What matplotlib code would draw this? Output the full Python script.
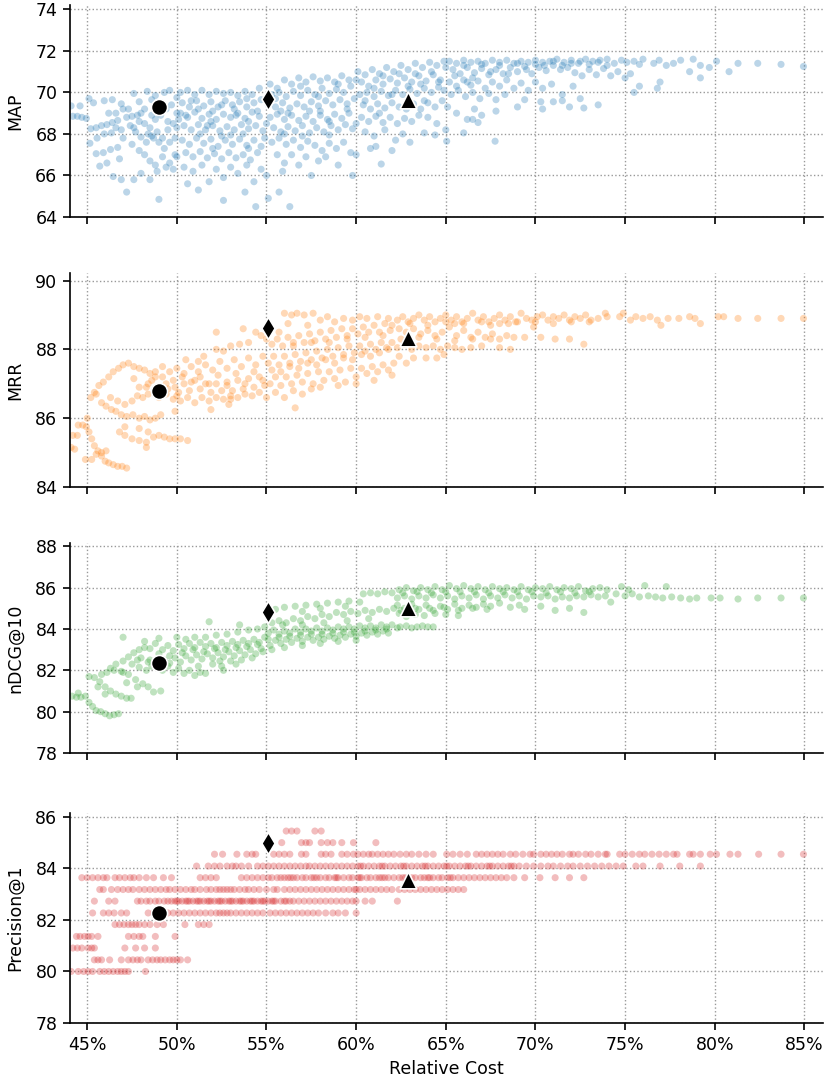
import matplotlib
matplotlib.use('Agg')
import matplotlib.pyplot as plt
from matplotlib.ticker import FuncFormatter

plt.rcParams['font.family'] = ['DejaVu Sans']
plt.rcParams['font.size'] = 12.5

# ---------------- data ----------------
map_points = [
    # x 44-47
    (44.1,69.35),(44.2,68.85),(44.45,68.85),(44.7,68.8),(44.95,68.75),(44.6,69.35),(45.1,69.7),(45.35,69.5),
    (45.2,68.25),(45.5,68.3),(45.8,68.4),(46.1,68.45),(46.4,68.55),(46.7,68.65),(45.15,67.55),(45.55,67.8),
    (45.95,68.0),(46.35,68.05),(45.5,67.05),(45.9,67.1),(46.3,67.25),(46.7,67.35),(45.7,66.45),(46.1,66.6),
    (46.45,65.95),(46.9,65.8),(47.2,65.2),(45.95,69.6),(46.4,69.65),(46.9,69.45),(46.6,69.0),(46.2,69.0),
    (46.9,68.2),(47.0,67.8),(46.8,66.8),
    # x 47-50
    (47.2,68.8),(47.5,68.85),(47.8,68.9),(47.3,69.2),(47.6,69.95),(47.9,69.55),(48.2,69.2),(48.35,70.05),
    (48.6,69.65),(48.8,69.85),(49.3,70.0),(49.6,70.1),(50.0,69.75),(47.4,68.4),(47.7,68.1),(48.0,67.85),
    (48.3,67.6),(48.6,67.9),(48.9,68.1),(49.2,67.8),(49.5,68.2),(49.8,68.5),(47.5,67.5),(47.9,67.2),
    (48.2,67.0),(48.5,66.7),(48.8,66.5),(49.2,66.9),(49.6,66.6),(49.9,67.0),(47.6,65.8),(48.0,66.1),
    (48.5,65.8),(48.9,66.2),(49.0,64.85),(49.4,66.4),(49.8,66.3),(47.9,68.6),(48.2,68.5),(48.5,68.3),
    (48.8,68.7),(49.1,68.9),(49.4,69.2),(49.7,69.4),(50.0,69.0),(48.4,68.0),(48.7,67.8),(49.0,67.6),
    (49.3,67.3),(49.6,67.6),(49.9,67.8),(50.0,66.9),(49.1,69.5),(48.0,69.0),(50.0,68.3),
    # x 50-55
    (50.2,70.0),(50.6,70.1),(51.0,69.9),(51.4,70.1),(51.8,69.9),(52.2,70.05),(52.6,69.95),(53.0,70.0),
    (53.4,69.85),(53.8,70.05),(54.2,69.9),(54.6,70.2),(50.3,69.5),(50.7,69.3),(51.1,69.6),(51.5,69.35),
    (51.9,69.55),(52.3,69.3),(52.7,69.6),(53.1,69.4),(53.5,69.55),(53.9,69.3),(54.3,69.5),(54.7,69.65),
    (50.2,69.0),(50.6,68.8),(51.0,69.05),(51.4,68.75),(51.8,68.95),(52.2,68.7),(52.6,68.95),(53.0,68.8),
    (53.4,69.0),(53.8,68.75),(54.2,69.05),(54.6,68.85),(50.4,68.4),(50.8,68.2),(51.2,68.45),(51.6,68.2),
    (52.0,68.4),(52.4,68.15),(52.8,68.35),(53.2,68.2),(53.6,68.45),(54.0,68.25),(54.4,68.4),(54.8,68.15),
    (50.3,67.7),(50.7,67.5),(51.1,67.8),(51.5,67.55),(51.9,67.75),(52.3,67.4),(52.7,67.7),(53.1,67.5),
    (53.5,67.75),(53.9,67.45),(54.3,67.7),(54.7,67.4),(50.5,67.1),(50.9,66.9),(51.3,67.15),(51.7,66.85),
    (52.1,67.05),(52.5,66.8),(52.9,67.1),(53.3,66.85),(53.7,67.0),(54.1,66.75),(54.5,67.1),(50.4,66.4),
    (50.9,66.2),(51.4,66.5),(51.8,65.7),(52.2,66.3),(52.6,65.9),(53.0,66.4),(53.4,66.1),(53.9,66.5),
    (54.3,65.7),(54.7,66.3),(50.6,65.6),(51.2,65.3),(52.6,64.8),(53.8,65.2),(54.4,64.5),(55.1,64.9),
    (55.7,65.2),(56.3,64.5),(50.1,68.7),(52.0,69.1),(53.2,69.2),(54.0,68.6),(51.3,68.0),(53.7,68.0),
    (52.5,67.9),(54.9,67.8),
    # x 55-60
    (55.2,70.4),(55.6,70.2),(56.0,70.6),(56.4,70.4),(56.8,70.7),(57.2,70.5),(57.6,70.75),(58.0,70.55),
    (58.4,70.7),(58.8,70.5),(59.2,70.8),(59.6,70.6),(55.3,69.9),(55.7,70.0),(56.1,69.8),(56.5,70.05),
    (56.9,69.85),(57.3,70.1),(57.7,69.9),(58.1,70.2),(58.5,69.95),(58.9,70.15),(59.3,70.0),(59.7,70.3),
    (55.1,69.4),(55.5,69.3),(55.9,69.5),(56.3,69.25),(56.7,69.45),(57.1,69.3),(57.5,69.55),(57.9,69.35),
    (58.3,69.6),(58.7,69.4),(59.1,69.65),(59.5,69.45),(59.9,69.7),(55.2,68.8),(55.6,68.95),(56.0,68.7),
    (56.4,68.9),(56.8,68.65),(57.2,68.85),(57.6,68.6),(58.0,68.9),(58.4,68.7),(58.8,68.95),(59.2,68.75),
    (59.6,69.0),(55.4,68.3),(55.8,68.1),(56.2,68.35),(56.6,68.15),(57.0,68.4),(57.4,68.05),(57.8,68.3),
    (58.2,68.1),(58.6,68.4),(59.0,68.2),(59.4,68.45),(59.8,68.25),(55.3,67.6),(55.7,67.8),(56.1,67.5),
    (56.5,67.7),(56.9,67.35),(57.3,67.65),(57.7,67.45),(58.1,67.2),(58.5,67.55),(58.9,67.3),(59.3,67.6),
    (59.7,67.1),(55.6,67.0),(56.0,66.6),(56.4,67.0),(56.8,66.5),(57.2,66.9),(57.5,66.0),(57.9,66.7),
    (58.3,66.9),(59.0,66.5),(59.8,66.0),(55.9,66.2),(55.0,66.0),
    # x 60-65
    (60.1,71.0),(60.5,70.85),(60.9,71.1),(61.3,70.9),(61.7,71.2),(62.1,71.0),(62.5,71.3),(62.9,71.1),
    (63.3,71.4),(63.7,71.2),(64.1,71.45),(64.5,71.3),(64.9,71.5),(60.3,70.5),(60.7,70.3),(61.1,70.6),
    (61.5,70.4),(61.9,70.65),(62.3,70.45),(62.7,70.7),(63.1,70.5),(63.5,70.8),(63.9,70.55),(64.3,70.85),
    (64.7,70.6),(60.2,69.9),(60.6,70.0),(61.0,69.8),(61.4,70.05),(61.8,69.85),(62.2,70.1),(62.6,69.9),
    (63.0,70.15),(63.4,69.95),(63.8,70.2),(64.2,70.0),(64.6,70.25),(60.4,69.4),(60.8,69.2),(61.2,69.45),
    (61.6,69.25),(62.0,69.5),(62.4,69.3),(63.2,69.45),(63.6,69.2),(64.0,69.5),(64.4,69.3),(64.8,69.6),
    (60.3,68.8),(60.7,68.6),(61.1,68.85),(61.5,68.55),(61.9,68.8),(62.3,68.5),(62.7,68.75),(63.1,68.6),
    (63.5,68.9),(64.0,68.8),(64.5,68.5),(60.5,68.1),(61.0,67.9),(61.6,68.2),(62.2,67.7),(62.6,68.0),
    (63.0,67.6),(63.8,68.05),(64.4,67.95),(60.8,67.3),(61.4,66.55),(62.0,67.2),(65.05,67.65),(60.0,67.0),
    (61.1,67.4),
    # x 65-75
    (65.2,71.5),(65.6,71.4),(66.0,71.55),(66.4,71.45),(66.8,71.5),(67.2,71.4),(67.6,71.55),(68.0,71.45),
    (68.4,71.55),(68.8,71.4),(69.2,71.5),(69.6,71.45),(70.0,71.55),(70.4,71.45),(70.8,71.5),(71.2,71.6),
    (71.6,71.45),(72.0,71.55),(72.4,71.4),(72.8,71.6),(73.2,71.5),(73.6,71.55),(74.0,71.6),(74.4,71.4),
    (74.8,71.55),(65.4,71.1),(65.8,70.9),(66.2,71.2),(66.6,70.95),(67.0,71.15),(67.4,70.85),(67.8,71.1),
    (68.2,70.9),(68.6,71.2),(69.0,71.0),(69.4,71.25),(69.8,70.9),(70.2,71.2),(70.6,71.05),(71.0,71.3),
    (71.4,71.1),(71.8,71.2),(72.2,70.95),(72.6,70.8),(73.0,71.1),(73.4,70.85),(73.8,71.15),(74.2,70.8),
    (74.6,71.0),(65.2,70.5),(65.6,70.3),(66.0,70.6),(66.4,70.35),(66.8,70.55),(67.2,70.2),(67.6,70.5),
    (68.0,70.3),(68.4,70.6),(68.8,70.2),(69.2,70.45),(69.6,70.1),(70.0,70.5),(70.4,70.2),(70.9,70.4),
    (71.5,69.9),(72.1,70.3),(65.3,69.9),(65.7,70.1),(66.1,69.8),(66.5,70.0),(66.9,69.7),(67.4,69.95),
    (67.8,69.65),(68.3,69.9),(69.4,69.65),(70.3,69.55),(71.0,69.55),(71.5,69.6),(72.5,69.7),(70.4,69.2),
    (71.9,69.3),(72.7,69.25),(73.5,69.4),(65.1,69.3),(65.6,69.0),(66.2,68.7),(66.6,69.2),(67.0,68.9),
    (67.8,69.1),(66.5,68.7),(66.8,68.55),(65.0,68.2),(66.0,68.05),(67.75,67.65),(69.0,69.3),
    # x 75-85
    (75.1,71.45),(75.5,71.5),(75.8,71.35),(76.0,71.6),(76.6,71.4),(76.9,71.55),(77.3,71.3),(77.7,71.4),
    (78.1,71.55),(78.6,71.0),(78.8,71.6),(79.2,71.3),(79.7,71.2),(80.1,71.5),(80.8,71.0),(81.3,71.4),
    (82.4,71.4),(83.7,71.35),(84.95,71.25),(75.5,70.0),(75.8,70.3),(76.8,70.2),(76.95,70.5),(79.2,70.7),
    (75.0,70.7),(75.3,70.9),
]
# extra dots in the darkest part of the MAP cloud
map_core = [
    (50.5,68.9),(51.2,69.2),(51.9,68.6),(52.5,69.4),(53.3,68.9),(53.9,69.7),(54.5,69.1),(55.0,68.5),
    (55.5,69.7),(56.2,69.0),(56.9,70.3),(57.4,69.1),(57.9,69.8),(58.5,68.6),(59.0,70.4),(59.5,69.2),
    (60.0,70.6),(60.5,69.6),(61.0,70.2),(61.5,70.8),(62.0,69.9),(62.4,70.9),(62.9,70.3),(63.3,70.9),
    (63.8,69.6),(64.2,71.0),(64.6,70.5),(65.0,71.2),(65.5,70.8),(66.0,71.3),(66.5,70.7),(67.0,71.35),
    (67.5,71.0),(68.0,71.3),(68.5,70.9),(69.0,71.4),(69.5,71.1),(70.0,71.35),(70.5,71.3),(71.0,71.5),
    (71.5,71.3),(72.0,71.4),(72.5,71.5),(73.0,71.35),(73.5,71.45),(74.0,71.3),(49.5,68.6),(48.6,68.9),
    (47.6,68.3),(46.6,68.3),(52.0,67.3),(53.0,67.95),(54.0,67.3),(56.0,68.0),(57.0,67.9),(58.5,67.95),
    (60.0,68.5),(61.3,69.0),(62.8,69.2),(63.6,70.4),(64.9,70.1),(66.2,70.5),(58.0,69.1),(55.8,69.1),
    (50.8,69.6),(51.7,68.4),(49.0,69.0),(47.0,69.2),
]

mrr_points = [
    # lower-left strands
    (44.1,85.15),(44.2,85.5),(44.45,85.5),(44.5,85.8),(44.75,85.8),(44.95,85.75),(44.3,85.1),(45.1,85.6),
    (45.25,85.4),(45.4,85.2),(45.6,85.05),(45.8,84.9),(46.0,84.75),(46.2,84.7),(46.45,84.65),(46.7,84.6),
    (46.95,84.6),(47.2,84.55),(44.9,84.8),(45.25,84.8),(45.5,84.95),(45.8,85.0),(46.05,85.05),
    (45.2,86.6),(45.5,86.7),(45.8,86.45),(46.05,86.35),(46.35,86.25),(46.6,86.2),(46.9,86.1),(47.2,86.05),
    (47.55,86.1),(47.9,86.0),(48.2,86.05),(48.5,85.95),(48.8,86.0),(49.1,86.1),(47.1,85.75),(47.9,85.7),
    (46.8,85.6),(47.1,85.5),(47.5,85.4),(47.9,85.35),(48.3,85.3),(48.4,85.6),(48.7,85.45),(49.0,85.5),
    (49.3,85.45),(49.6,85.4),(49.9,85.4),(50.2,85.4),(50.6,85.35),(48.3,85.15),
    (45.4,86.75),(45.65,86.95),(45.9,87.05),(46.2,87.2),(46.45,87.35),(46.75,87.45),(47.0,87.55),(47.3,87.6),
    (47.6,87.5),(47.9,87.45),(48.2,87.4),(48.5,87.3),(48.8,87.2),(46.3,86.6),(46.7,86.5),(47.1,86.4),
    (47.5,86.5),(47.8,86.65),(48.1,86.6),(48.4,86.7),(45.0,86.0),(47.9,86.9),(48.4,87.0),
    # main band 48.5-55
    (48.6,87.1),(48.9,86.9),(49.2,87.2),(49.5,86.85),(49.8,87.1),(50.1,86.75),(50.4,87.0),(50.7,86.8),
    (51.0,87.1),(51.3,86.85),(51.6,87.0),(51.9,86.75),(52.2,87.0),(52.5,86.8),(52.8,87.05),(53.1,86.8),
    (53.4,87.1),(53.7,86.85),(54.0,87.15),(54.3,86.9),(54.6,87.2),(54.9,86.95),
    (48.8,87.35),(49.2,87.5),(49.6,87.35),(50.0,87.45),(50.4,87.3),(50.8,87.5),(51.2,87.35),(51.6,87.55),
    (52.0,87.4),(52.4,87.65),(52.8,87.45),(53.2,87.7),(53.6,87.5),(54.0,87.75),(54.4,87.55),(54.8,87.8),
    (49.0,86.6),(49.4,86.7),(49.8,86.55),(50.2,86.5),(50.6,86.6),(51.0,86.45),(51.4,86.6),(51.8,86.5),
    (52.2,86.6),(52.6,86.55),(53.0,86.65),(53.4,86.6),(53.8,86.7),(54.2,86.65),(54.6,86.75),(49.9,86.2),
    (51.9,86.25),(52.9,86.4),(50.5,87.7),(51.5,87.8),(52.2,88.0),(52.6,87.95),(53.0,88.1),(53.5,88.15),
    (54.0,88.2),(52.2,88.5),(53.7,88.6),(54.4,88.5),(54.7,88.4),(55.0,88.3),(51.2,87.65),
    # 55-62
    (55.2,87.0),(55.5,87.2),(55.8,86.95),(56.1,87.2),(56.4,87.0),(56.7,87.25),(57.0,87.05),(57.3,87.3),
    (57.6,87.0),(57.9,87.35),(58.2,87.1),(58.5,87.35),(58.8,87.15),(59.1,87.4),(59.4,87.05),(59.7,87.45),
    (60.0,87.2),(60.3,87.45),(60.6,87.3),(60.9,87.5),(61.2,87.35),(61.5,87.55),(61.8,87.4),(62.1,87.6),
    (55.1,87.6),(55.4,87.8),(55.7,87.55),(56.0,87.8),(56.3,87.6),(56.6,87.85),(56.9,87.65),(57.2,87.9),
    (57.5,87.7),(57.8,87.95),(58.1,87.75),(58.4,88.0),(58.7,87.8),(59.0,88.05),(59.3,87.85),(59.6,88.1),
    (59.9,87.9),(60.2,88.1),(60.5,87.95),(60.8,88.15),(61.1,88.0),(61.4,88.2),(61.7,88.05),(62.0,88.2),
    (55.3,88.15),(55.6,88.3),(55.9,88.1),(56.2,88.35),(56.5,88.2),(56.8,88.4),(57.1,88.2),(57.4,88.45),
    (57.7,88.25),(58.0,88.5),(58.3,88.3),(58.6,88.55),(58.9,88.35),(59.2,88.6),(59.5,88.4),(59.8,88.6),
    (60.1,88.45),(60.4,88.65),(60.7,88.5),(61.0,88.7),(61.3,88.5),(61.6,88.75),(61.9,88.55),
    (56.0,89.05),(56.4,89.0),(56.7,89.05),(57.1,89.0),(57.6,89.05),(58.0,88.85),(58.4,88.95),(58.8,88.8),
    (59.3,88.9),(59.8,88.85),(60.2,88.95),(60.6,88.9),(61.2,88.95),(61.8,88.9),(57.3,88.7),(56.2,88.75),
    (55.7,88.5),(55.5,86.75),(56.0,86.6),(56.5,86.8),(57.0,86.7),(57.5,86.85),(58.0,86.9),(59.0,86.95),
    (60.0,87.0),(61.0,87.1),(62.0,87.25),(56.6,86.3),
    # 62-75
    (62.3,88.85),(62.6,88.95),(62.9,88.8),(63.2,88.9),(63.5,89.0),(63.8,88.85),(64.1,88.95),(64.4,88.8),
    (64.7,88.9),(65.0,89.0),(65.3,88.85),(65.6,88.95),(65.9,88.8),(66.2,88.9),(66.5,89.05),(66.8,88.85),
    (67.1,88.95),(67.4,88.8),(67.7,88.9),(68.0,89.0),(68.3,88.85),(68.6,88.95),(68.9,88.8),(69.2,89.05),
    (69.5,88.9),(69.8,88.85),(70.1,88.95),(70.4,89.0),(70.7,88.85),(71.0,88.95),(71.3,88.9),(71.6,89.0),
    (71.9,88.85),(72.2,88.95),(72.5,88.9),(72.8,89.0),(73.1,88.85),(73.5,88.9),(73.9,89.05),(74.0,88.95),
    (74.7,88.95),(74.9,89.05),(75.3,88.85),
    (62.4,88.6),(62.8,88.5),(63.2,88.6),(63.6,88.45),(64.0,88.55),(64.4,88.4),(64.8,88.5),(65.2,88.65),
    (65.6,88.4),(66.0,88.55),(66.4,88.35),(66.8,88.5),(67.2,88.35),(67.6,88.45),(68.0,88.3),(68.4,88.4),
    (68.8,88.35),(69.4,88.35),(70.3,88.35),(71.1,88.3),(71.9,88.3),(72.7,88.15),(65.5,88.75),(67.5,88.7),
    (68.5,88.75),(69.9,88.65),
    (62.3,88.05),(62.7,88.15),(63.1,88.0),(63.5,88.1),(63.9,88.05),(64.3,88.1),(64.7,88.0),(65.1,88.1),
    (65.5,88.05),(65.9,88.0),(66.4,88.05),(67.0,88.1),(68.0,88.05),(68.6,88.0),
    (62.4,87.8),(62.8,87.6),(63.2,87.75),(63.9,87.75),(64.5,87.75),(64.9,87.85),
    # tail
    (75.6,88.95),(76.0,88.9),(76.4,88.95),(76.8,88.85),(77.0,88.7),(77.4,88.9),(78.0,88.9),(78.6,88.95),
    (78.9,88.9),(79.2,88.75),(80.2,88.95),(80.5,88.95),(81.3,88.9),(82.4,88.9),(83.7,88.9),(84.95,88.9),
]
mrr_core = [
    (49.4,87.0),(49.9,86.9),(50.3,87.2),(50.8,87.05),(51.3,87.2),(51.8,87.0),(52.3,87.25),(52.8,86.95),
    (53.3,87.3),(53.8,87.0),(54.3,87.35),(54.8,87.1),(55.3,87.4),(55.8,87.35),(56.3,87.5),(56.8,87.45),
    (57.3,87.6),(57.8,87.55),(58.3,87.7),(58.8,87.6),(59.3,87.75),(59.8,87.7),(60.3,87.85),(60.8,87.8),
    (61.3,87.9),(61.8,88.0),(56.5,88.1),(57.5,88.2),(58.5,88.2),(59.5,88.3),(60.5,88.35),(61.5,88.4),
    (62.5,88.3),(63.5,88.35),(64.5,88.3),(65.5,88.25),(66.5,88.3),(67.5,88.3),(62.0,88.7),(63.0,88.75),
    (64.0,88.7),(65.0,88.8),(66.0,88.75),(67.0,88.8),(68.0,88.75),(69.0,88.8),(70.0,88.8),(71.0,88.75),
    (72.0,88.8),(73.0,88.8),(48.3,86.9),(47.6,87.15),(50.0,86.65),(53.0,86.55),(55.0,86.6),
]

ndcg_points = [
    # lower-left strands
    (44.15,80.75),(44.4,80.7),(44.65,80.7),(44.9,80.75),(45.1,80.45),(45.3,80.25),(45.5,80.05),(45.75,80.0),
    (46.0,79.9),(46.25,79.8),(46.5,79.85),(46.75,79.9),(44.5,80.9),
    (45.1,81.7),(45.4,81.65),(45.7,81.45),(46.0,81.2),(46.3,81.0),(46.6,80.85),(46.9,80.75),(47.2,80.65),
    (47.45,80.65),(45.6,81.2),(46.0,80.85),
    (45.8,81.8),(46.1,81.9),(46.5,82.0),(46.9,81.95),(47.3,81.8),(47.7,81.55),(48.1,81.35),(48.4,81.2),
    (48.7,80.95),(49.1,81.0),(47.8,81.2),(47.2,81.4),
    (46.3,82.1),(46.6,82.3),(47.0,82.45),(47.3,82.65),(47.6,82.85),(47.9,83.0),(48.2,83.1),(48.5,83.05),
    (48.8,83.3),(47.0,83.6),(48.2,83.4),(49.0,83.55),(47.5,82.3),(47.9,82.15),(48.3,82.0),(48.6,82.2),
    (47.0,81.9),(48.0,82.6),(48.5,82.5),
    # main band 49-55
    (49.2,82.0),(49.5,82.2),(49.8,81.9),(50.1,82.1),(50.4,81.85),(50.7,82.0),(51.0,81.75),(51.3,81.9),
    (51.6,81.85),(49.3,82.5),(49.6,82.35),(49.9,82.6),(50.2,82.4),(50.5,82.7),(50.8,82.5),(51.1,82.75),
    (51.4,82.55),(51.7,82.8),(52.0,82.6),(52.3,82.85),(52.6,82.65),(52.9,82.9),(53.2,82.7),(53.5,82.95),
    (53.8,82.75),(54.1,83.0),(54.4,82.8),(54.7,83.05),
    (49.2,83.0),(49.5,83.2),(49.8,82.95),(50.1,83.25),(50.4,83.05),(50.7,83.3),(51.0,83.1),(51.3,83.35),
    (51.6,83.15),(51.9,83.3),(52.2,83.1),(52.5,83.35),(52.8,83.2),(53.1,83.4),(53.4,83.25),(53.7,83.45),
    (54.0,83.3),(54.3,83.5),(54.6,83.35),(54.9,83.6),
    (50.0,83.6),(50.5,83.5),(51.0,83.6),(51.6,83.6),(52.2,83.7),(52.8,83.75),(53.4,83.85),(54.0,83.95),
    (54.5,84.0),(54.9,84.1),(51.8,84.35),(53.5,84.2),
    (52.0,82.3),(52.5,82.2),(53.0,82.45),(53.6,82.5),(54.2,82.6),(52.6,82.0),(53.3,82.3),
    # 55-62
    (55.2,83.2),(55.5,83.45),(55.8,83.3),(56.1,83.5),(56.4,83.35),(56.7,83.55),(57.0,83.4),(57.3,83.6),
    (57.6,83.45),(57.9,83.6),(58.2,83.5),(58.5,83.65),(58.8,83.55),(59.1,83.7),(59.4,83.6),(59.7,83.75),
    (60.0,83.65),(60.3,83.8),(60.6,83.7),(60.9,83.85),(61.2,83.75),(61.5,83.9),(61.8,83.8),
    (55.1,83.8),(55.4,83.95),(55.7,83.75),(56.0,83.9),(56.3,83.8),(56.6,84.0),(56.9,83.85),(57.2,84.0),
    (57.5,83.9),(57.8,84.05),(58.1,83.9),(58.4,84.05),(58.7,83.95),(59.0,84.1),(59.3,84.0),(59.6,84.1),
    (59.9,84.0),(60.2,84.15),(60.5,84.05),(60.8,84.15),(61.1,84.05),(61.4,84.2),(61.7,84.1),(62.0,84.2),
    (55.3,84.3),(55.7,84.4),(56.1,84.3),(56.5,84.5),(56.9,84.4),(57.3,84.6),(57.7,84.5),(58.1,84.7),
    (58.5,84.6),(58.9,84.8),(59.3,84.7),(59.7,84.85),(60.1,84.75),(60.5,84.9),(60.9,84.8),(61.3,84.95),
    (61.7,84.85),(62.1,85.0),
    (55.0,84.9),(55.5,84.95),(56.0,85.05),(56.6,85.1),(57.2,85.15),(57.8,85.2),(58.4,85.25),(59.0,85.3),
    (59.6,85.35),(60.2,85.3),(60.4,85.7),(60.8,85.75),(61.2,85.7),(61.6,85.8),(62.0,85.75),(57.0,84.85),
    (58.0,85.0),(59.4,85.1),
    (55.3,83.0),(56.0,83.1),(57.0,83.2),(58.0,83.3),(59.0,83.4),(60.0,83.45),
    # 62-75
    (62.4,85.9),(62.8,86.0),(63.2,85.85),(63.6,86.0),(64.0,85.9),(64.4,86.05),(64.8,85.9),(65.2,86.1),
    (65.6,85.95),(66.0,86.1),(66.4,85.95),(66.8,86.05),(67.2,85.9),(67.6,86.05),(68.0,85.95),(68.4,86.0),
    (68.8,85.9),(69.2,86.05),(69.6,85.9),(70.0,86.0),(70.4,85.95),(70.8,86.05),(71.2,85.9),(71.6,86.0),
    (72.0,85.95),(72.4,86.05),(72.8,85.85),(73.2,85.95),(73.6,86.0),(74.0,85.9),
    (62.3,85.5),(62.7,85.6),(63.1,85.45),(63.5,85.6),(63.9,85.5),(64.3,85.65),(64.7,85.5),(65.1,85.6),
    (65.5,85.45),(65.9,85.6),(66.3,85.5),(66.7,85.65),(67.1,85.45),(67.5,85.6),(67.9,85.5),(68.3,85.65),
    (68.7,85.5),(69.1,85.6),(69.5,85.45),(69.9,85.6),(70.3,85.55),(70.7,85.6),(71.1,85.45),(71.5,85.55),
    (71.9,85.5),(72.3,85.6),(72.7,85.55),(73.1,85.65),(73.5,85.55),(73.9,85.6),
    (62.3,85.15),(62.7,85.0),(63.1,85.2),(63.5,84.95),(63.9,85.15),(64.3,84.9),(64.7,85.1),(65.1,84.95),
    (65.5,85.2),(65.9,85.0),(66.3,85.15),(66.7,85.05),(67.1,85.2),(67.5,85.1),(68.0,85.25),(68.6,85.05),
    (69.1,85.15),(69.4,84.95),(70.3,85.1),(71.1,84.9),(71.9,85.0),(72.7,84.8),
    (62.4,84.75),(62.8,84.6),(63.3,84.7),(63.8,84.65),(64.4,84.75),(65.0,84.7),(65.7,84.65),
    (62.45,84.1),(62.8,84.15),(63.1,84.05),(63.4,84.1),(63.7,84.15),(64.0,84.1),(64.3,84.1),
    # tail
    (74.5,85.7),(74.8,86.05),(75.0,85.6),(75.4,85.7),(75.8,85.55),(76.1,86.1),(76.3,85.6),(76.7,85.55),
    (77.1,85.5),(77.3,86.05),(77.6,85.55),(78.1,85.5),(78.6,85.45),(79.0,85.5),(79.8,85.5),(80.3,85.5),
    (81.3,85.45),(82.4,85.5),(83.7,85.5),(84.95,85.5),(75.2,85.9),(74.2,85.3),
]
ndcg_core = [
    (50.3,82.85),(50.9,83.0),(51.5,82.9),(52.1,83.05),(52.7,83.0),(53.3,83.1),(53.9,83.15),(54.5,83.25),
    (55.1,83.5),(55.7,83.6),(56.3,83.65),(56.9,83.7),(57.5,83.75),(58.1,83.75),(58.7,83.8),(59.3,83.85),
    (59.9,83.85),(60.5,83.9),(61.1,83.95),(61.7,84.0),(62.3,84.05),(55.9,84.2),(57.0,84.2),(58.2,84.3),
    (59.5,84.4),(60.7,84.5),(62.5,84.9),(63.3,85.0),(64.1,85.0),(64.9,85.05),(65.7,84.9),(66.5,85.0),
    (67.3,84.95),(62.6,85.75),(63.4,85.8),(64.2,85.75),(65.0,85.8),(65.8,85.8),(66.6,85.8),(67.4,85.75),
    (68.2,85.8),(69.0,85.8),(69.8,85.8),(70.6,85.75),(71.4,85.8),(72.2,85.75),(73.0,85.8),(49.6,82.7),
    (49.0,82.8),(48.4,82.4),(47.8,82.5),(51.2,82.2),(52.4,82.45),(54.8,82.9),
]

# Precision@1 takes discrete levels; x positions of the dots on each level
p1_rows = {
    85.45: [56.1, 56.4, 56.7, 57.7, 58.05],
    85.00: [55.85, 56.95, 57.2, 57.4, 58.05, 58.4, 58.7, 59.2, 59.85, 61.1],
    84.55: [52.1, 52.55, 53.35, 53.9, 54.2, 54.4, 55.4, 55.7, 56.0, 56.3, 56.95, 57.2, 58.05, 58.3, 58.6,
            59.2, 59.5, 59.85, 60.1, 60.4, 60.7, 60.9, 61.2, 61.5, 61.8, 62.1, 62.45, 62.8, 63.1, 63.5,
            63.9, 64.3, 65.05, 65.4, 65.8, 66.2, 66.7, 67.0, 67.3, 67.6, 67.9, 68.2, 68.6, 68.9, 69.3,
            69.7, 69.9, 70.3, 70.6, 70.9, 71.2, 71.5, 71.9, 72.1, 72.4, 72.8, 73.1, 73.5, 73.9, 74.0,
            74.7, 75.0, 75.4, 75.8, 76.1, 76.5, 76.9, 77.3, 77.7, 77.9, 78.6, 78.8, 79.2, 79.75, 80.1,
            80.85, 81.3, 82.45, 83.7, 84.95],
    84.09: [51.1, 51.75, 52.1, 52.4, 52.8, 53.1, 53.3, 53.6, 54.0, 54.5, 54.8, 55.1, 55.4, 55.7, 56.0,
            56.3, 56.6, 56.9, 57.2, 57.4, 57.7, 58.0, 58.3, 58.6, 58.9, 59.2, 59.5, 59.8, 60.1, 60.4,
            60.7, 61.0, 61.3, 61.6, 61.9, 62.2, 62.5, 62.8, 63.1, 63.4, 63.7, 64.0, 64.3, 64.6, 64.9,
            65.2, 65.5, 65.8, 66.1, 66.4, 66.7, 67.0, 67.3, 67.6, 67.9, 68.2, 68.5, 68.8, 69.1, 69.5,
            69.9, 70.3, 70.7, 71.0, 71.4, 71.8, 72.1, 72.5, 72.9, 73.3, 73.7, 74.1, 74.5, 74.9, 75.6,
            76.0, 76.95, 78.05, 79.2, 60.25, 61.45, 62.65, 63.85, 65.05, 66.25, 67.45, 68.65],
    83.64: [44.7, 45.0, 45.3, 45.6, 45.9, 46.1, 46.55, 46.8, 47.1, 47.4, 47.6, 47.9, 48.3, 48.7, 49.25,
            49.7, 51.3, 51.6, 51.9, 52.2, 53.6, 53.9, 54.2, 54.5, 54.8, 55.1, 55.3, 55.6, 55.8, 56.0,
            56.2, 56.5, 56.7, 57.0, 57.2, 57.5, 57.8, 58.0, 58.3, 58.5, 58.8, 59.0, 59.3, 59.6, 59.8,
            60.1, 60.3, 60.6, 60.8, 61.1, 61.3, 61.6, 61.8, 62.1, 62.4, 62.6, 63.1, 63.3, 63.6, 63.8,
            64.1, 64.3, 64.6, 64.8, 65.1, 65.4, 65.7, 66.0, 66.3, 66.6, 66.9, 67.2, 67.5, 67.8, 68.1,
            68.4, 68.8, 69.4, 70.25, 71.1, 71.9, 72.7, 56.35, 57.65, 58.9, 60.2, 61.45, 62.75, 64.0, 65.25],
    83.18: [45.7, 45.9, 46.35, 46.7, 47.0, 47.3, 47.55, 47.9, 48.2, 48.5, 48.8, 49.1, 49.4, 49.6, 49.9,
            50.2, 50.5, 50.8, 51.0, 51.3, 51.65, 51.9, 52.2, 52.4, 52.6, 52.8, 53.0, 53.2, 53.5, 53.8,
            54.0, 54.3, 54.6, 55.0, 55.4, 55.6, 56.0, 56.3, 56.6, 56.9, 57.2, 57.5, 57.8, 58.1, 58.4,
            58.7, 59.0, 59.3, 59.6, 59.9, 60.0, 60.2, 60.5, 60.8, 61.1, 61.4, 61.7, 62.0, 62.4, 62.7,
            63.0, 63.3, 63.6, 63.9, 64.2, 64.5, 64.8, 65.1, 65.4, 65.7, 66.0],
    82.73: [45.4, 46.2, 46.55, 47.8, 48.0, 48.3, 48.5, 48.8, 49.0, 49.3, 49.5, 49.7, 49.9, 50.1, 50.3,
            50.5, 50.7, 50.9, 51.1, 51.3, 51.5, 51.7, 51.9, 52.1, 52.3, 52.5, 52.7, 52.9, 53.1, 53.3,
            53.5, 53.7, 53.9, 54.1, 54.3, 54.5, 54.7, 54.9, 55.1, 55.3, 55.5, 55.8, 56.0, 56.3, 56.5,
            56.8, 57.1, 57.4, 57.7, 58.0, 58.3, 58.6, 58.9, 59.2, 59.5, 59.8, 60.0, 60.5, 60.9, 62.3,
            50.0, 50.6, 51.2, 51.8, 52.4, 53.0, 53.6, 54.2, 54.8, 55.4, 56.1],
    82.27: [45.3, 45.9, 46.2, 46.5, 46.9, 47.2, 48.4, 48.7, 49.5, 49.8, 50.1, 50.4, 50.7, 51.0, 51.3,
            51.6, 51.9, 52.2, 52.4, 52.6, 52.8, 53.0, 53.3, 53.6, 53.9, 54.2, 54.5, 54.8, 55.2, 55.5,
            55.8, 56.1, 56.4, 56.7, 57.0, 57.3, 57.6, 57.9, 58.3, 58.7, 59.0, 59.4, 60.0],
    81.82: [46.55, 46.8, 47.05, 47.3, 47.5, 47.7, 47.9, 48.2, 48.5, 48.9, 49.25, 50.45, 51.2, 51.5, 51.8],
    81.36: [44.4, 44.6, 44.85, 45.05, 45.25, 45.6, 47.3, 47.6, 47.9, 48.1, 48.8, 49.9],
    80.91: [44.2, 44.45, 44.7, 45.05, 45.25, 45.4, 47.1, 47.7, 48.2, 48.8],
    80.45: [45.4, 45.6, 45.8, 46.25, 46.9, 47.3, 47.55, 47.8, 48.0, 48.4, 48.65, 48.9, 49.1, 49.35,
            49.6, 49.8, 50.0, 50.2, 50.6],
    80.00: [44.1, 44.5, 44.8, 45.05, 45.3, 45.7, 45.95, 46.2, 46.45, 46.7, 46.9, 47.1, 47.3, 48.25],
}
p1_points = [(x, lvl) for lvl, xs in p1_rows.items() for x in xs]

# three highlighted configurations (circle, diamond, triangle)
special_x = [48.98, 55.09, 62.9]
special_markers = ['o', 'd', '^']
special_sizes = [135, 125, 145]
special_y = {
    'MAP': [69.32, 69.7, 69.65],
    'MRR': [86.8, 88.63, 88.32],
    'nDCG@10': [82.37, 84.83, 85.0],
    'Precision@1': [82.26, 84.99, 83.55],
}

panels = [
    ('MAP', map_points + map_core, '#1f77b4', (64, 74.21), [64, 66, 68, 70, 72, 74]),
    ('MRR', mrr_points + mrr_core, '#ff7f0e', (84, 90.22), [84, 86, 88, 90]),
    ('nDCG@10', ndcg_points + ndcg_core, '#2ca02c', (78, 88.16), [78, 80, 82, 84, 86, 88]),
    ('Precision@1', p1_points, '#d62728', (78, 86.15), [78, 80, 82, 84, 86]),
]
x_ticks = [45, 50, 55, 60, 65, 70, 75, 80, 85]

# ---------------- figure ----------------
W, H = 831, 1087
fig = plt.figure(figsize=(W / 100, H / 100), dpi=100)
left_px, right_px = 70, 823
boxes_px = [(5, 217), (273, 487), (543, 753), (813, 1023)]

axes = []
for (top, bot), (name, pts, color, ylim, yt) in zip(boxes_px, panels):
    ax = fig.add_axes([left_px / W, 1 - bot / H, (right_px - left_px) / W, (bot - top) / H])
    axes.append(ax)
    xs = [p[0] for p in pts]
    ys = [p[1] for p in pts]
    ax.scatter(xs, ys, s=26, color=color, alpha=0.3, edgecolors='none', zorder=2)
    for sx, sy, m, sz in zip(special_x, special_y[name], special_markers, special_sizes):
        ax.scatter([sx], [sy], s=sz, marker=m, color='black', edgecolors='white',
                   linewidths=1.2, zorder=5)
    ax.set_xlim(44.04, 86.04)
    ax.set_ylim(*ylim)
    ax.set_yticks(yt)
    ax.set_xticks(x_ticks)
    ax.xaxis.set_major_formatter(FuncFormatter(lambda v, p: f'{int(round(v))}%'))
    ax.set_ylabel(name, fontsize=12.5, labelpad=8)
    ax.grid(True, linestyle=':', color='#999999', linewidth=1.0)
    ax.set_axisbelow(True)
    for s in ('top', 'right'):
        ax.spines[s].set_visible(False)
    for s in ('left', 'bottom'):
        ax.spines[s].set_linewidth(1.2)
    ax.tick_params(direction='out', length=5, width=1.2, labelsize=12.5, pad=4)

for ax in axes[:-1]:
    ax.tick_params(labelbottom=False)
axes[-1].set_xlabel('Relative Cost', fontsize=12.5, labelpad=5)
fig.align_ylabels(axes)

fig.savefig('out.png', dpi=100)
